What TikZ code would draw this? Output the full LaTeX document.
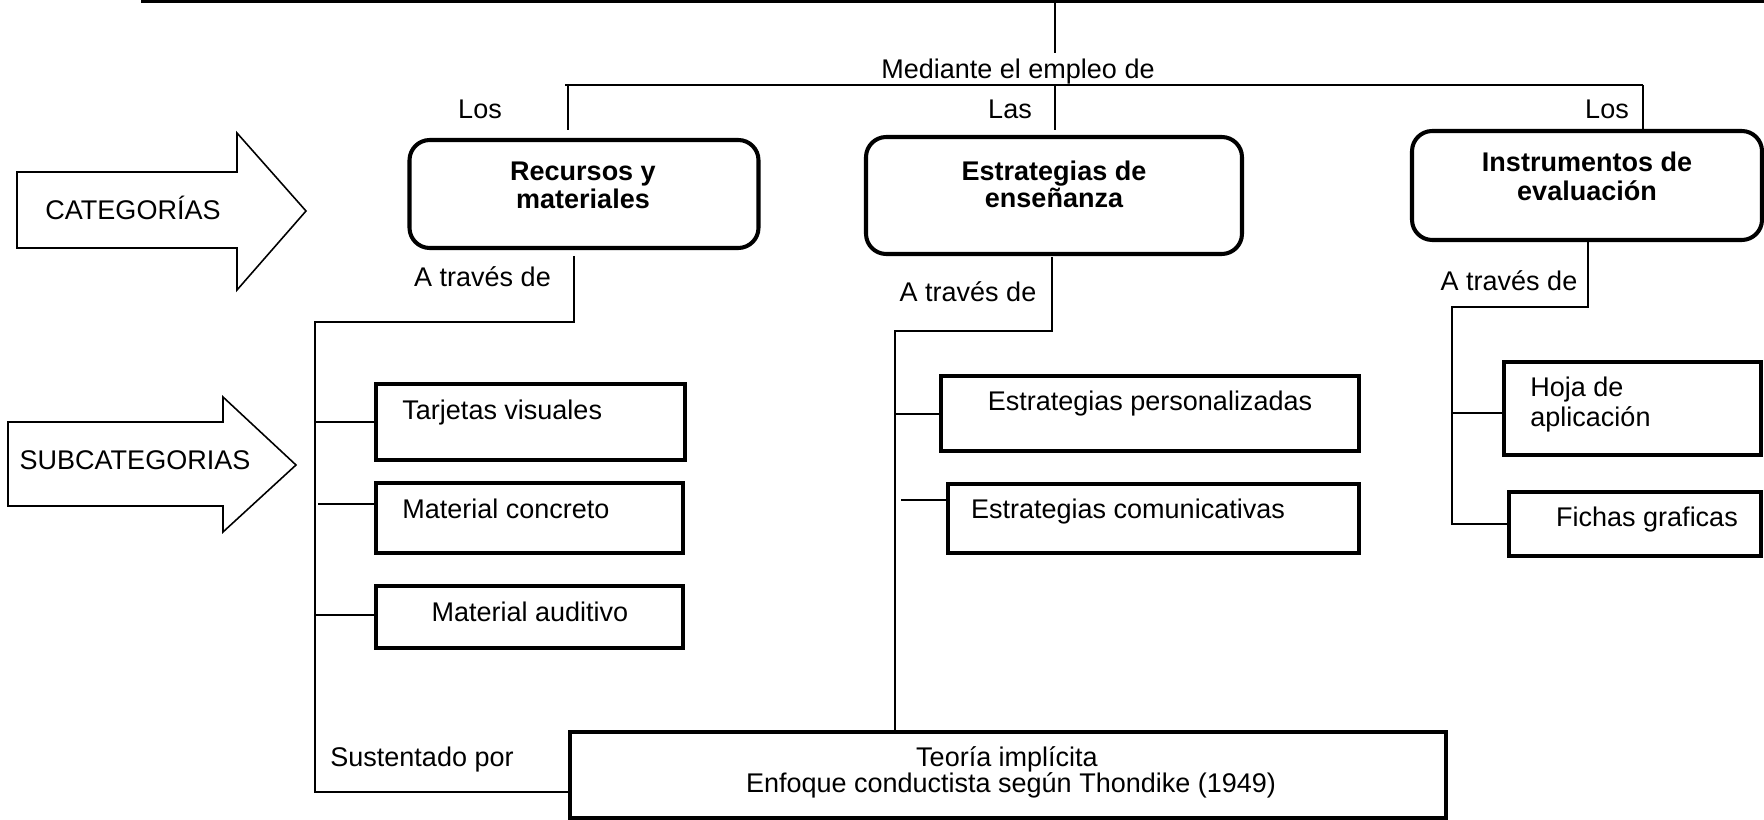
\documentclass[tikz,border=0pt]{standalone}
\usepackage{fontspec}
\setmainfont{Liberation Sans}
\def\U{0.4444pt}
\tikzset{
  txt/.style={font=\fontsize{12}{14}\selectfont, inner sep=0pt, anchor=base},
  btxt/.style={font=\fontsize{12}{14}\selectfont\bfseries, inner sep=0pt, anchor=base},
  catbox/.style={draw, line width=1.8pt, rounded corners=9pt, inner sep=0pt},
  subbox/.style={draw, line width=1.8pt, inner sep=0pt},
  teobox/.style={draw, line width=1.4pt, inner sep=0pt},
  conn/.style={line width=0.7pt},
  bigarrow/.style={draw, line width=0.7pt},
}
\begin{document}
\begin{tikzpicture}[x=\U, y=-\U]
\useasboundingbox (0,0) rectangle (1764,820);

% top rule and stem
\draw[line width=1.6pt] (141,1.5) -- (1764,1.5);
\coordinate (stemtop) at (1055,1.5);
\coordinate (stembot) at (1055,53);
\draw[conn] (stemtop) -- (stembot);
\node[txt] (med) at (1018,79) {Mediante el empleo de};

% distribution bar
\coordinate (barL) at (565,85);
\coordinate (barR) at (1643,85);
\draw[line width=0.9pt] (barL) -- (barR);

% category boxes
\node[catbox, minimum width=349*\U, minimum height=108*\U] (b1) at (584,194) {};
\node[catbox, minimum width=376*\U, minimum height=117*\U] (b2) at (1054,195.5) {};
\node[catbox, minimum width=350*\U, minimum height=109*\U] (b3) at (1587,185.5) {};

\node[btxt] (t1a) at (583,181) {Recursos y};
\node[btxt] (t1b) at (583,209) {materiales};
\node[btxt] (t2a) at (1054,181) {Estrategias de};
\node[btxt] (t2b) at (1054,208) {enseñanza};
\node[btxt] (t3a) at (1587,172) {Instrumentos de};
\node[btxt] (t3b) at (1587,201) {evaluación};

\coordinate (v1) at (568,85);
\coordinate (v1b) at (568,130);
\coordinate (v2) at (1055,85);
\coordinate (v2b) at (1055,130);
\draw[conn] (v1) -- (v1b);
\draw[conn] (v2) -- (v2b);
\draw[conn] (barR) -- (b3.north -| barR);

\node[txt] (los1) at (480,119) {Los};
\node[txt] (las) at (1010,119) {Las};
\node[txt] (los2) at (1607,119) {Los};

% category arrows
\draw[bigarrow] (17,172) -- (237,172) -- (237,133) -- (306,211) -- (237,290) -- (237,248) -- (17,248) -- cycle;
\node[txt] (catlbl) at (133,220) {CATEGORÍAS};
\draw[bigarrow] (8,422) -- (223,422) -- (223,397) -- (296,465) -- (223,532) -- (223,506) -- (8,506) -- cycle;
\node[txt] (sublbl) at (135,470) {SUBCATEGORIAS};

% subcategory boxes
\node[subbox, minimum width=309*\U, minimum height=76*\U] (tv) at (530.5,422) {};
\node[subbox, minimum width=307*\U, minimum height=70*\U] (mc) at (529.5,518) {};
\node[subbox, minimum width=307*\U, minimum height=62*\U] (ma) at (529.5,617) {};
\node[subbox, minimum width=418*\U, minimum height=75*\U] (ep) at (1150,413.5) {};
\node[subbox, minimum width=411*\U, minimum height=69*\U] (ec) at (1153.5,518.5) {};
\node[subbox, minimum width=257*\U, minimum height=93*\U] (hj) at (1632.5,408.5) {};
\node[subbox, minimum width=252*\U, minimum height=64*\U] (fg) at (1635,524) {};
\node[teobox, minimum width=876*\U, minimum height=86*\U] (teo) at (1008,775) {};

\node[txt, anchor=base west] (tvt) at (402,420) {Tarjetas visuales};
\node[txt, anchor=base west] (mct) at (402,519) {Material concreto};
\node[txt] (mat) at (530,622) {Material auditivo};
\node[txt] (ept) at (1150,411) {Estrategias personalizadas};
\node[txt] (ect) at (1128,519) {Estrategias comunicativas};
\node[txt, anchor=base west] (hjt1) at (1530,397) {Hoja de};
\node[txt, anchor=base west] (hjt2) at (1530,427) {aplicación};
\node[txt] (fgt) at (1647,527) {Fichas graficas};
\node[txt] (teot1) at (1007,767) {Teoría implícita};
\node[txt] (teot2) at (1011,793) {Enfoque conductista según Thondike (1949)};

% branch 1
\coordinate (d1) at (574,256);
\coordinate (j1) at (574,322);
\coordinate (s1) at (315,322);
\coordinate (s1b) at (315,792);
\draw[conn] (d1) -- (j1) -- (s1) -- (s1b) -- (teo.west |- s1b);
\node[txt] (at1) at (482.5,287) {A través de};
\coordinate (c1) at (315,422);
\coordinate (c2) at (318,504);
\coordinate (c3) at (315,615);
\draw[conn] (c1) -- (tv.west |- c1);
\draw[conn] (c2) -- (mc.west |- c2);
\draw[conn] (c3) -- (ma.west |- c3);
\node[txt] (sust) at (422,767) {Sustentado por};

% branch 2
\coordinate (d2) at (1052,257);
\coordinate (j2) at (1052,331);
\coordinate (s2) at (895,331);
\draw[conn] (d2) -- (j2) -- (s2) -- (teo.north -| s2);
\node[txt] (at2) at (968,302) {A través de};
\coordinate (c4) at (895,414);
\coordinate (c5) at (901,500);
\draw[conn] (c4) -- (ep.west |- c4);
\draw[conn] (c5) -- (ec.west |- c5);

% branch 3
\coordinate (j3) at (1588,307);
\coordinate (s3) at (1452,307);
\coordinate (s3b) at (1452,524);
\draw[conn] (b3.south -| j3) -- (j3) -- (s3) -- (s3b) -- (fg.west |- s3b);
\node[txt] (at3) at (1509,291) {A través de};
\coordinate (c6) at (1452,413);
\draw[conn] (c6) -- (hj.west |- c6);
\end{tikzpicture}
\end{document}
